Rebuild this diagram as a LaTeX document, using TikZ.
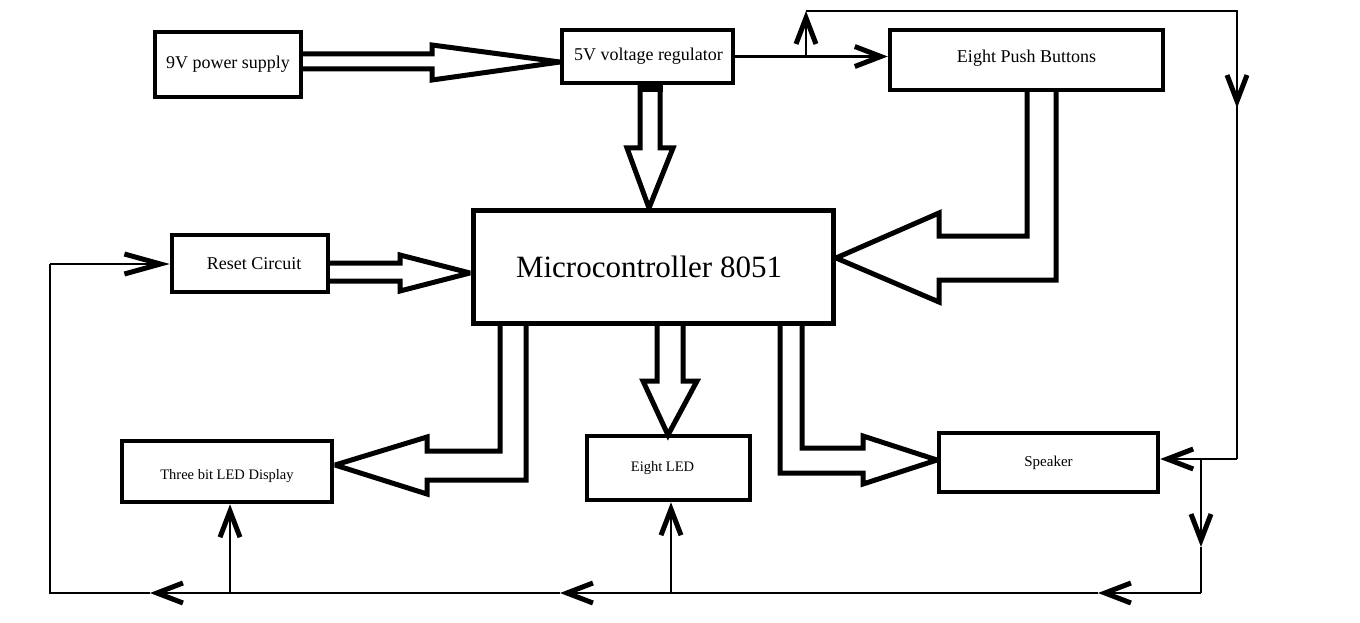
\documentclass[tikz,border=0pt]{standalone}
\usepackage{fontspec}
\setmainfont{Liberation Serif}
\usetikzlibrary{arrows.meta}
\tikzset{
  box/.style={draw, line width=4.5pt, rectangle, inner sep=0pt, font=\fontsize{18}{20}\selectfont},
  bus/.style={line width=5pt, line join=miter, miter limit=2.5},
  sig/.style={line width=2.8pt, line join=miter},
  sigarrow/.style={-{Straight Barb[length=26pt,width=20pt,line width=5pt 0]}},
}
\begin{document}
\begin{tikzpicture}[x=1pt,y=-1pt]
\useasboundingbox[fill=white] (0,0) rectangle (1360,623);

% blocks
\node[box, minimum width=146pt, minimum height=65pt] (ps) at (228,64.5) {9V power supply};
\node[box, minimum width=171pt, minimum height=53pt] (reg) at (647.5,56.5) {\hspace{2pt}5V voltage regulator};
\node[box, minimum width=273pt, minimum height=60pt, text height=13pt, text depth=4pt] (pb) at (1026.5,60) {\raisebox{2pt}{Eight Push Buttons}};
\node[box, line width=5pt, minimum width=360pt, minimum height=113pt, font=\fontsize{31}{34}\selectfont] (mcu) at (653,266.5) {\hspace{-8pt}Microcontroller 8051};
\node[box, minimum width=156pt, minimum height=57pt] (rst) at (250,263.5) {\hspace{8pt}Reset Circuit};
\node[box, minimum width=210pt, minimum height=61pt, font=\fontsize{14.5}{16}\selectfont, text height=10pt, text depth=3pt] (tb) at (227,471.5) {\raisebox{-4pt}{Three bit LED Display}};
\node[box, minimum width=163pt, minimum height=64pt, font=\fontsize{14.5}{16}\selectfont] (led) at (668.5,468) {\hspace{-12pt}Eight LED};
\node[box, minimum width=219pt, minimum height=59pt, font=\fontsize{15}{17}\selectfont] (spk) at (1048.5,462.5) {Speaker};

% hollow bus arrows
\draw[bus] (303,54) -- (432,54) -- (432,45) -- (560,62) -- (432,80) -- (432,69) -- (303,69);
\draw[bus] (640,85) -- (640,148) -- (627,148) -- (649,208) -- (673,148) -- (660,148) -- (660,85);
\fill (637.5,83) rectangle (662.5,92);
\draw[bus] (1027,92) -- (1027,236) -- (939,236) -- (939,213) -- (836,258) -- (939,302) -- (939,280) -- (1056,280) -- (1056,92);
\draw[bus] (330,263) -- (400,263) -- (400,255) -- (470,273) -- (400,291) -- (400,281) -- (330,281);
\draw[bus] (500,325) -- (500,451) -- (427,451) -- (427,437) -- (335,465) -- (427,494) -- (427,480) -- (526,480) -- (526,325);
\draw[bus] (657,325) -- (657,381) -- (643,381) -- (668,435) -- (697,381) -- (683,381) -- (683,325);
\draw[bus] (802,325) -- (802,448) -- (863,448) -- (863,436) -- (937,460) -- (863,484) -- (863,473) -- (780,473) -- (780,325);

% signal lines
\coordinate (j1) at (806,56.5);
\coordinate (t1) at (806,11);
\coordinate (t2) at (1237,11);
\coordinate (r1) at (1237,108);
\coordinate (r2) at (1237,459);
\coordinate (j2) at (1201,459);
\coordinate (b1) at (1201,547);
\coordinate (b2) at (1201,593);
\coordinate (m1) at (1098,593);
\coordinate (m2) at (560,593);
\coordinate (m3) at (150,593);
\coordinate (bl) at (50,593);
\coordinate (tl) at (50,264);
\coordinate (k1) at (230,593);
\coordinate (k2) at (671,593);

\draw[sig, sigarrow] (reg.east) -- (reg.east -| pb.west);
\draw[sig, sigarrow] (j1) -- (t1);
\draw[sig] (t1) -- (t2) -- (r1);
\draw[sig, sigarrow] (t2) -- (r1);
\draw[sig] (r1) -- (r2);
\draw[sig, sigarrow] (r2) -- (r2 -| spk.east);
\draw[sig, sigarrow] (j2) -- (b1);
\draw[sig] (b1) -- (b2);
\draw[sig, sigarrow] (b2) -- (m1);
\draw[sig, sigarrow] (m1) -- (m2);
\draw[sig, sigarrow] (m2) -- (m3);
\draw[sig] (m3) -- (bl) -- (tl);
\draw[sig, -{Straight Barb[length=36pt,width=20pt,line width=5pt 0]}] (tl) -- (tl -| rst.west);
\draw[sig, sigarrow] (k1) -- (k1 |- tb.south);
\draw[sig, sigarrow] (k2) -- (k2 |- led.south);
\end{tikzpicture}
\end{document}
